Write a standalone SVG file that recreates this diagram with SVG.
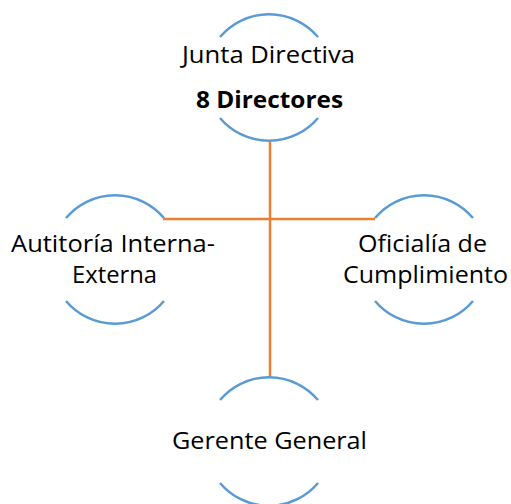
<svg xmlns="http://www.w3.org/2000/svg" width="511" height="504" viewBox="0 0 511 504">
<style>
.arc{fill:none;stroke:#5B9BD5;stroke-width:2.5}
.conn{fill:none;stroke:#ED7D31;stroke-width:2.5}
text{font-family:"Open Sans","Noto Sans","Liberation Sans",sans-serif;font-size:23px;fill:#000;text-anchor:middle}
.b{font-weight:bold}
</style>
<rect width="511" height="504" fill="#fff"/>
<g id="connectors">
<line class="conn" x1="270" y1="142" x2="270" y2="377"/>
<line class="conn" x1="163" y1="219" x2="375" y2="219"/>
</g>
<g id="junta">
<path class="arc" d="M220,37 A64,64 0 0 1 318,37"/>
<path class="arc" d="M220,118 A64,64 0 0 0 318,118"/>
<text x="268.5" y="63" textLength="173" lengthAdjust="spacingAndGlyphs">Junta Directiva</text>
<text class="b" x="269.5" y="108" textLength="147" lengthAdjust="spacingAndGlyphs">8 Directores</text>
</g>
<g id="auditoria">
<path class="arc" d="M66,218 A64,64 0 0 1 164,218"/>
<path class="arc" d="M66,301 A64,64 0 0 0 164,301"/>
<text x="113" y="252" textLength="204" lengthAdjust="spacingAndGlyphs">Autitoría Interna-</text>
<text x="114.5" y="283" textLength="85" lengthAdjust="spacingAndGlyphs">Externa</text>
</g>
<g id="oficialia">
<path class="arc" d="M375,218 A64,64 0 0 1 473,218"/>
<path class="arc" d="M375,301 A64,64 0 0 0 473,301"/>
<text x="422.5" y="252" textLength="129" lengthAdjust="spacingAndGlyphs">Oficialía de</text>
<text x="425.5" y="283" textLength="165" lengthAdjust="spacingAndGlyphs">Cumplimiento</text>
</g>
<g id="gerente">
<path class="arc" d="M220,400 A64,64 0 0 1 318,400"/>
<path class="arc" d="M220,483 A64,64 0 0 0 318,483"/>
<text x="269.5" y="449" textLength="195" lengthAdjust="spacingAndGlyphs">Gerente General</text>
</g>
</svg>
